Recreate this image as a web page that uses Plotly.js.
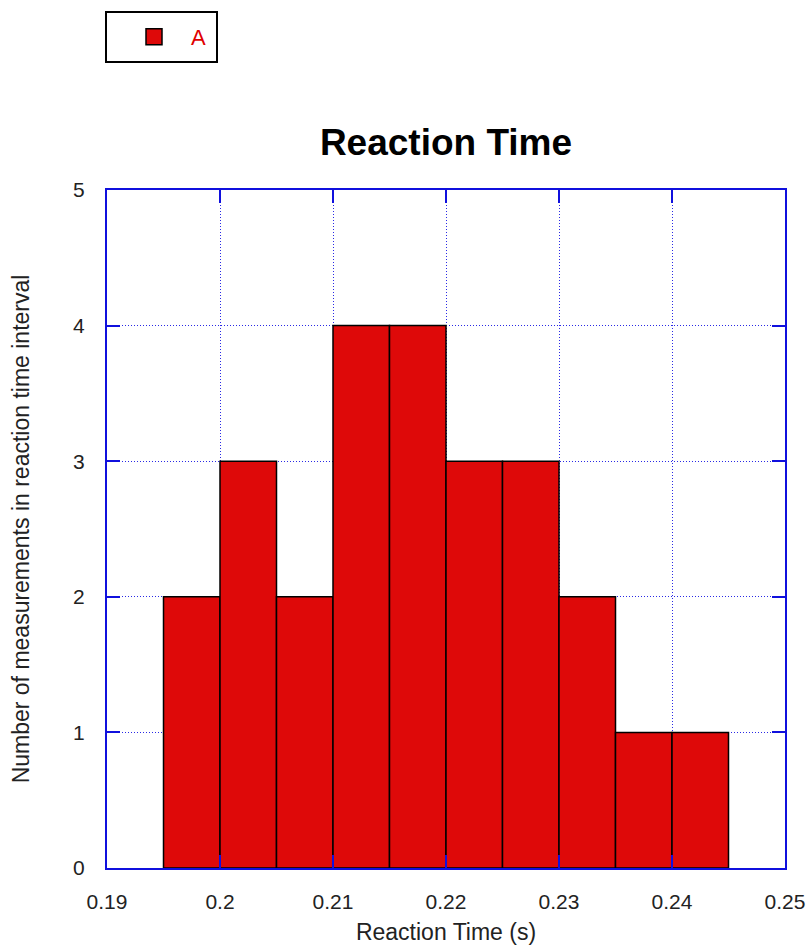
<!DOCTYPE html>
<html>
<head>
<meta charset="utf-8">
<script src="https://cdn.plot.ly/plotly-3.0.1.min.js"></script>
<style>html,body{margin:0;padding:0;background:#fff;}#chart{width:811px;height:948px;}</style>
</head>
<body>
<div id="chart"></div>
<script>
const binCenters = [0.1975, 0.2025, 0.2075, 0.2125, 0.2175, 0.2225, 0.2275, 0.2325, 0.2375, 0.2425];
const counts = [2, 3, 2, 4, 4, 3, 3, 2, 1, 1];
const binWidth = 0.005;
const xTicks = [0.19, 0.2, 0.21, 0.22, 0.23, 0.24, 0.25];
const xTickLabels = ['0.19', '0.2', '0.21', '0.22', '0.23', '0.24', '0.25'];
const yTicks = [0, 1, 2, 3, 4, 5];
const seriesName = 'A';

const FONT = 'Liberation Sans, Arial, sans-serif';

const traces = [
  {
    type: 'bar',
    x: binCenters,
    y: counts,
    width: binCenters.map(() => binWidth),
    marker: {color: '#de0909', line: {color: '#000', width: 1.5}},
    showlegend: false,
    hoverinfo: 'x+y'
  },
  {
    type: 'scatter',
    mode: 'markers',
    x: [null],
    y: [null],
    name: seriesName,
    marker: {symbol: 'square', size: 16, color: '#de0909', line: {color: '#000', width: 1.5}},
    showlegend: true
  }
];

const axisCommon = {
  showline: true, linecolor: '#1010dd', linewidth: 2, mirror: 'ticks',
  ticks: 'inside', ticklen: 13, tickcolor: '#1010dd', tickwidth: 2,
  showgrid: true, gridcolor: '#2a2ae6', griddash: '1px,2px', gridwidth: 1,
  zeroline: false,
  tickfont: {family: FONT, size: 21, color: '#222'}
};

const layout = {
  width: 811, height: 948,
  margin: {l: 107, r: 26, t: 190, b: 80},
  paper_bgcolor: '#fff', plot_bgcolor: '#fff',
  title: {
    text: '<b>Reaction Time</b>',
    font: {family: FONT, size: 37, color: '#000'},
    x: 0.5, xref: 'paper', xanchor: 'center',
    y: 1 - 142 / 948, yref: 'container', yanchor: 'middle'
  },
  xaxis: Object.assign({}, axisCommon, {
    range: [0.19, 0.25],
    tickvals: xTicks, ticktext: xTickLabels,
    ticklabelstandoff: 14,
    title: {text: 'Reaction Time (s)', font: {family: FONT, size: 23, color: '#222'}, standoff: 12}
  }),
  yaxis: Object.assign({}, axisCommon, {
    range: [0, 5],
    tickvals: yTicks,
    ticklabelstandoff: 16,
    title: {text: 'Number of measurements in reaction time interval', font: {family: FONT, size: 23, color: '#222'}, standoff: 37}
  }),
  legend: {
    x: (117 - 107) / 678, xref: 'paper', xanchor: 'left',
    y: 1 + (190 - 37) / 678, yref: 'paper', yanchor: 'middle',
    borderwidth: 0, bgcolor: 'rgba(0,0,0,0)',
    font: {family: FONT, size: 22, color: '#e00000'},
    itemwidth: 64
  },
  shapes: [
    {type: 'rect', xref: 'paper', yref: 'paper',
     x0: (106 - 107) / 678, x1: (217 - 107) / 678,
     y0: 1 + (190 - 62) / 678, y1: 1 + (190 - 12) / 678,
     line: {color: '#000', width: 2}, fillcolor: 'rgba(0,0,0,0)', layer: 'above'}
  ],
  showlegend: true,
  bargap: 0
};

Plotly.newPlot('chart', traces, layout, {displayModeBar: false, staticPlot: true});
</script>
</body>
</html>
